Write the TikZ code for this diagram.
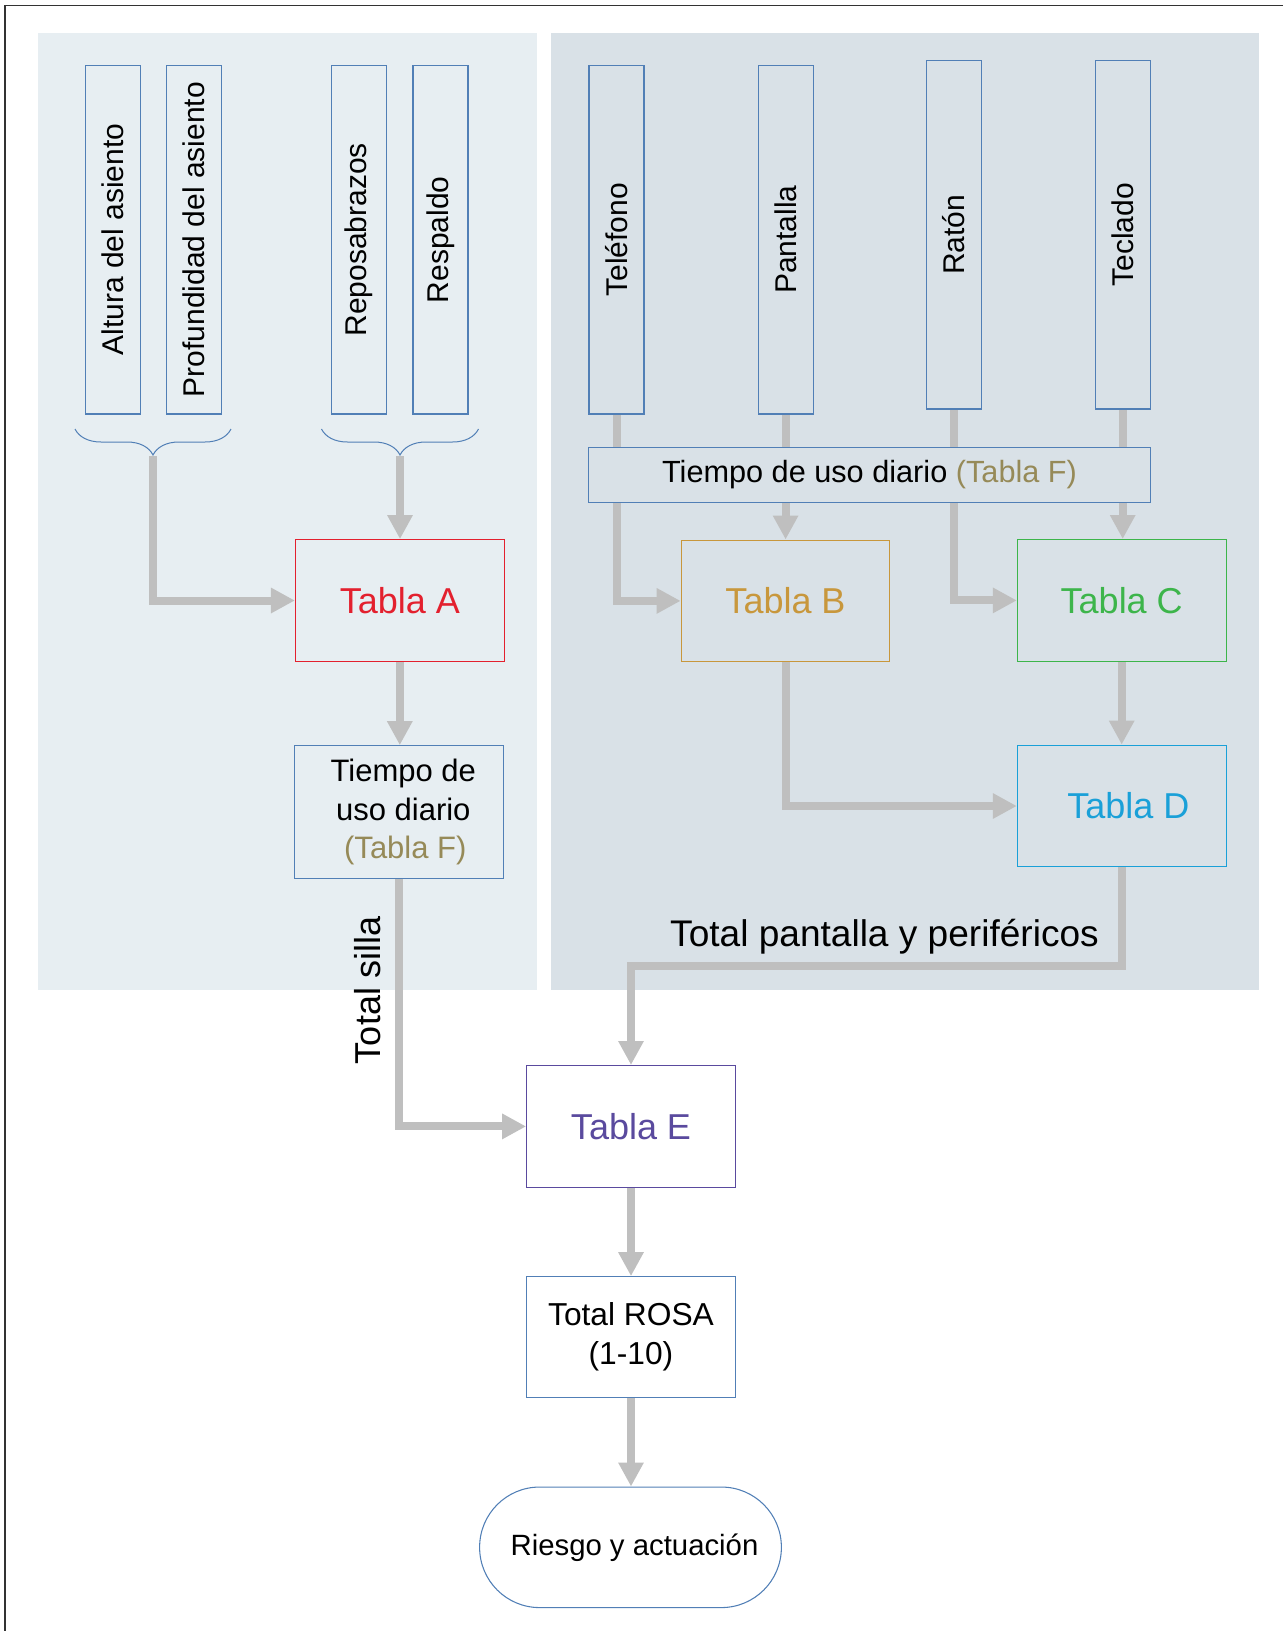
\documentclass[tikz,border=0pt]{standalone}
\usepackage{fontspec}
\setmainfont{Liberation Sans}
\usetikzlibrary{arrows.meta,decorations.pathreplacing}

\definecolor{leftbg}{HTML}{E7EEF2}
\definecolor{rightbg}{HTML}{D9E1E7}
\definecolor{boxblue}{HTML}{517FB6}
\definecolor{tablaA}{HTML}{E3202E}
\definecolor{tablaB}{HTML}{C8973C}
\definecolor{tablaC}{HTML}{3DB54B}
\definecolor{tablaD}{HTML}{1AA0D8}
\definecolor{tablaE}{HTML}{5A4A9E}
\definecolor{tablaF}{HTML}{968A58}
\definecolor{flowgray}{HTML}{BFBFBF}
\definecolor{framegray}{HTML}{333333}

\pgfdeclarelayer{panel}
\pgfdeclarelayer{link}
\pgfsetlayers{panel,link,main}

\tikzset{every picture/.style={line width=0.75pt}}

\begin{document}
\begin{tikzpicture}[x=0.75pt,y=0.75pt,yscale=-1,xscale=1,
    vbox/.style={draw=boxblue,line width=0.8pt,inner sep=0pt,minimum width=41.25pt,minimum height=261.4pt,font=\fontsize{22.5}{27}\selectfont},
    tabla/.style={draw=#1,text=#1,line width=0.8pt,inner sep=0pt,minimum width=156.5pt,minimum height=91.3pt,font=\fontsize{27}{32}\selectfont},
    infobox/.style={draw=boxblue,line width=0.8pt,inner sep=0pt,minimum width=156.8pt,align=center},
    flow/.style={draw=flowgray,line width=6pt,-{Triangle[length=18pt,width=18pt]}},
    bracket/.style={draw=boxblue,line width=0.75pt,decorate,decoration={brace,mirror,amplitude=19.5pt}}]
    \useasboundingbox (0,0) rectangle (1283,1631);

    %Frame
    \draw[framegray,line width=1.1pt] (1283,5.5) -- (4.8,5.5) -- (4.8,1631);

    %Panels
    \begin{pgfonlayer}{panel}
        \fill[leftbg] (38,33) rectangle (537,990);
        \fill[rightbg] (551,33) rectangle (1259,990);
    \end{pgfonlayer}

    % Silla
    \node[vbox] (altura) at (112.9,239.75) {\rotatebox{90}{Altura del asiento}};
    \node[vbox] (profundidad) at (194,239.75) {\rotatebox{90}{Profundidad del asiento}};
    \node[vbox] (reposabrazos) at (359,239.75) {\rotatebox{90}{Reposabrazos}};
    \node[vbox] (respaldo) at (440.5,239.75) {\rotatebox{90}{Respaldo}};

    \draw[bracket] (75,429) -- (231,429);
    \draw[bracket] (321.5,429) -- (478.5,429);
    \coordinate (braceL) at (153,456);
    \coordinate (braceR) at (400,456);

    \node[tabla=tablaA] (tablaA) at (399.8,600.5) {Tabla A};
    \node[infobox,minimum height=99.5pt,font=\fontsize{23.25}{28.9}\selectfont] (tiempoA) at (399.3,812) {\hspace{6pt}Tiempo de\\\hspace{6pt}uso diario\\\hspace{9pt}\textcolor{tablaF}{(Tabla F)}};

    % Pantalla y perifericos
    \node[vbox] (telefono) at (616.5,239.75) {\rotatebox{90}{Teléfono}};
    \node[vbox] (pantalla) at (785.6,239.75) {\rotatebox{90}{Pantalla}};
    \node[vbox] (raton) at (954,234.7) {\rotatebox{90}{Ratón}};
    \node[vbox] (teclado) at (1122.7,234.7) {\rotatebox{90}{Teclado}};

    \node[draw=boxblue,fill=rightbg,line width=0.8pt,inner sep=0pt,minimum width=421.1pt,minimum height=41pt,font=\fontsize{23}{27}\selectfont] (usoDiario) at (869.5,474.7) {Tiempo de uso diario \textcolor{tablaF}{(Tabla F)}};

    \node[tabla=tablaB] (tablaB) at (785.5,600.9) {Tabla B};
    \node[tabla=tablaC] (tablaC) at (1121.7,600.4) {Tabla C};
    \node[tabla=tablaD] (tablaD) at (1121.7,806) {\hspace{10pt}Tabla D};

    % Resultado
    \node[tabla=tablaE] (tablaE) at (631,1126.4) {Tabla E};
    \node[infobox,minimum height=90.5pt,font=\fontsize{23.8}{29}\selectfont] (rosa) at (631,1337) {Total ROSA\\(1-10)};
    \node[draw=boxblue,line width=0.8pt,rounded corners=45pt,inner sep=0pt,minimum width=226.3pt,minimum height=90.4pt,font=\fontsize{22}{26}\selectfont] (riesgo) at (630.5,1547.3) {\hspace{6pt}Riesgo y actuación};

    % Text Node
    \node[rotate=90,inner sep=0pt,font=\fontsize{27}{32}\selectfont] (totalSilla) at (368,990) {Total silla};
    % Text Node
    \node[anchor=base,inner sep=0pt,font=\fontsize{27.8}{33}\selectfont] (totalPantalla) at (884.5,946) {Total pantalla y periféricos};
    \coordinate (jDE) at (0,965.6);

    %Connectors
    \begin{pgfonlayer}{link}
        \draw[flow] (braceL) |- (tablaA.west);
        \draw[flow] (braceR) -- (braceR |- tablaA.north);
        \draw[flow] (tablaA.south) -- (tablaA.south |- tiempoA.north);
        \draw[flow] (tiempoA.south) |- (tablaE.west);

        \draw[flow] (telefono.south) |- (tablaB.west);
        \draw[flow] (pantalla.south) -- (pantalla.south |- tablaB.north);
        \draw[flow] (raton.south) |- (tablaC.west);
        \draw[flow] (teclado.south) -- (teclado.south |- tablaC.north);
        \draw[flow] (tablaC.south) -- (tablaC.south |- tablaD.north);
        \draw[flow] (tablaB.south) |- (tablaD.west);
        \draw[flow] (tablaD.south) -- (tablaD.south |- jDE) -| (tablaE.north);

        \draw[flow] (tablaE.south) -- (tablaE.south |- rosa.north);
        \draw[flow] (rosa.south) -- (rosa.south |- riesgo.north);
    \end{pgfonlayer}
\end{tikzpicture}
\end{document}
